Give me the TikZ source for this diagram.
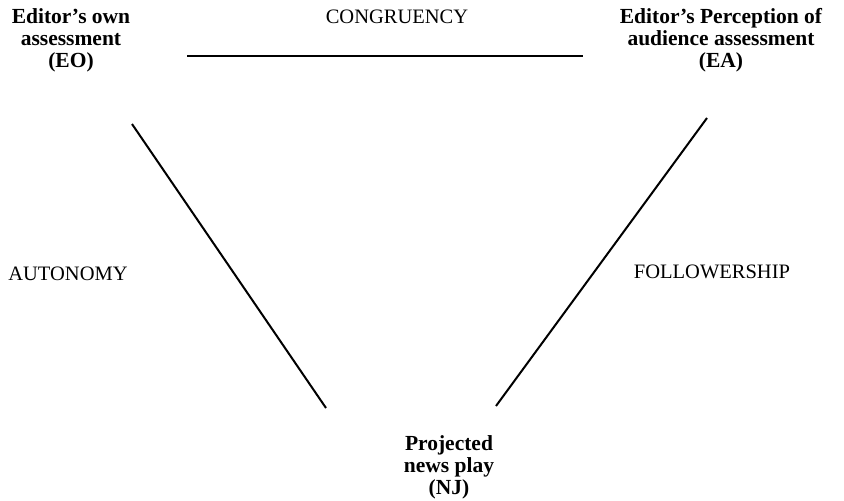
\documentclass[tikz,border=0pt]{standalone}
\usepackage{fontspec}
\setmainfont{Liberation Serif}
\begin{document}
\begin{tikzpicture}[x=1pt,y=-1pt,
  corner/.style={align=center,inner sep=0pt,font=\fontsize{21.5}{22}\selectfont\bfseries},
  side/.style={inner sep=0pt,font=\fontsize{20.5}{22}\selectfont},
  link/.style={line width=2pt,black}]
\useasboundingbox (0,0) rectangle (844,501);
\node[corner] (eo) at (71,40) {Editor's own\\assessment\\(EO)};
\node[corner] (ea) at (721,40) {Editor's Perception of\\audience assessment\\(EA)};
\node[corner] (nj) at (449,467) {Projected\\news play\\(NJ)};
\node[side] (cong) at (397,17) {CONGRUENCY};
\node[side] (auto) at (68,274) {AUTONOMY};
\node[side] (foll) at (712,272) {FOLLOWERSHIP};
\coordinate (h1) at (187,56);
\coordinate (h2) at (583,56);
\coordinate (l1) at (132,124);
\coordinate (l2) at (326,408);
\coordinate (r1) at (707,118);
\coordinate (r2) at (496,406);
\draw[link] (h1) -- (h2);
\draw[link] (l1) -- (l2);
\draw[link] (r1) -- (r2);
\end{tikzpicture}
\end{document}
